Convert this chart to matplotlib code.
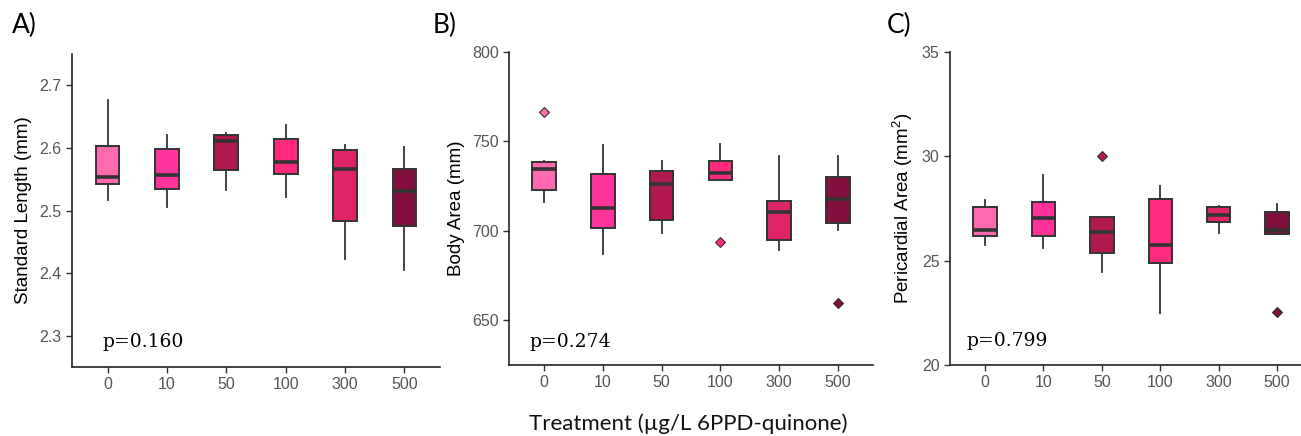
#!/usr/bin/env python3
"""
Three-panel boxplot: standard length, body area and pericardial area
across 6PPD-quinone treatments.
"""

import matplotlib
matplotlib.use("Agg")
import matplotlib.pyplot as plt


# ============================================================
# DATA
# ============================================================

treatments = ["0", "10", "50", "100", "300", "500"]
box_colors = ["#FF69B0", "#FF3399", "#B0184F", "#FF2A7F", "#DC2467", "#820F3D"]

# A) Standard Length (mm)
sl_whislo = [2.517, 2.506, 2.533, 2.522, 2.423, 2.405]
sl_q1 = [2.543, 2.535, 2.564, 2.558, 2.484, 2.475]
sl_med = [2.554, 2.557, 2.611, 2.577, 2.567, 2.531]
sl_q3 = [2.603, 2.598, 2.621, 2.614, 2.597, 2.566]
sl_whishi = [2.676, 2.621, 2.624, 2.637, 2.605, 2.601]
sl_fliers = [[], [], [], [], [], []]

# B) Body Area (mm)
ba_whislo = [716.1, 687.3, 699.0, 728.6, 689.1, 700.3]
ba_q1 = [722.6, 701.4, 706.1, 728.6, 694.7, 704.4]
ba_med = [734.4, 713.0, 726.2, 732.5, 710.4, 717.6]
ba_q3 = [738.3, 731.6, 733.6, 739.2, 716.5, 729.9]
ba_whishi = [738.8, 747.8, 739.2, 748.5, 742.0, 742.0]
ba_fliers = [[766.7], [], [], [694.0], [], [659.4]]

# C) Pericardial Area (mm^2)
pa_whislo = [25.74, 25.63, 24.46, 22.50, 26.33, 26.27]
pa_q1 = [26.17, 26.19, 25.39, 24.90, 26.87, 26.27]
pa_med = [26.46, 27.03, 26.38, 25.73, 27.17, 26.49]
pa_q3 = [27.56, 27.83, 27.08, 27.94, 27.56, 27.32]
pa_whishi = [27.93, 29.09, 27.08, 28.56, 27.62, 27.72]
pa_fliers = [[], [], [30.0], [], [], [22.54]]

p_values = ["p=0.160", "p=0.274", "p=0.799"]
panel_labels = ["A)", "B)", "C)"]
y_labels = ["Standard Length (mm)", "Body Area (mm)", r"Pericardial Area (mm$^{2}$)"]
x_label = "Treatment (\u00b5g/L 6PPD-quinone)"


# ============================================================
# STYLE
# ============================================================

plt.rcParams["font.family"] = ["Liberation Sans", "DejaVu Sans"]
plt.rcParams["mathtext.fontset"] = "custom"
plt.rcParams["mathtext.rm"] = "Liberation Sans"
plt.rcParams["mathtext.it"] = "Liberation Sans"

EDGE = "#333333"
TICK_GREY = "#555555"


def make_stats(whislo, q1, med, q3, whishi, fliers):
    stats = []
    for i in range(len(med)):
        stats.append(
            {
                "whislo": whislo[i],
                "q1": q1[i],
                "med": med[i],
                "q3": q3[i],
                "whishi": whishi[i],
                "fliers": fliers[i],
            }
        )
    return stats


def draw_panel(ax, stats, ylim, yticks, xlim):
    positions = list(range(len(treatments)))
    art = ax.bxp(
        stats,
        positions=positions,
        widths=0.4,
        patch_artist=True,
        showcaps=False,
        showfliers=True,
        boxprops=dict(edgecolor=EDGE, linewidth=1.4),
        whiskerprops=dict(color=EDGE, linewidth=1.3),
        medianprops=dict(color=EDGE, linewidth=2.6, solid_capstyle="butt"),
        flierprops=dict(marker="D", markersize=5.5, markeredgecolor=EDGE,
                        markeredgewidth=0.8, linestyle="none"),
    )
    for patch, col in zip(art["boxes"], box_colors):
        patch.set_facecolor(col)
    for fl, col in zip(art["fliers"], box_colors):
        fl.set_markerfacecolor(col)

    ax.set_xticks(positions)
    ax.set_xticklabels(treatments)
    ax.set_xlim(*xlim)
    ax.set_ylim(*ylim)
    ax.set_yticks(yticks)

    for side in ["top", "right"]:
        ax.spines[side].set_visible(False)
    for side in ["left", "bottom"]:
        ax.spines[side].set_color("#222222")
        ax.spines[side].set_linewidth(1.2)

    ax.tick_params(axis="both", colors="#333333", labelcolor=TICK_GREY,
                   labelsize=11.5, length=4, width=1.0)


# ============================================================
# FIGURE
# ============================================================

fig = plt.figure(figsize=(13.01, 4.36), dpi=100)
W, H = 1301, 436

# axes boxes in pixels: left, right, top, bottom
boxes_px = [(72, 440, 54, 367), (509, 873, 52, 365), (950, 1301, 52, 365)]
xlims = [(-0.6, 5.6), (-0.6, 5.6), (-0.6, 5.41)]
ylims = [(2.25, 2.75), (625, 800), (20, 35)]
yticks = [[2.3, 2.4, 2.5, 2.6, 2.7], [650, 700, 750, 800], [20, 25, 30, 35]]
p_pos = [(0.082, 0.064), (0.055, 0.058), (0.048, 0.06)]
label_px = [(12, 33), (433, 33), (887, 33)]

all_stats = [
    make_stats(sl_whislo, sl_q1, sl_med, sl_q3, sl_whishi, sl_fliers),
    make_stats(ba_whislo, ba_q1, ba_med, ba_q3, ba_whishi, ba_fliers),
    make_stats(pa_whislo, pa_q1, pa_med, pa_q3, pa_whishi, pa_fliers),
]

for i in range(3):
    l, r, t, b = boxes_px[i]
    ax = fig.add_axes([l / W, (H - b) / H, (r - l) / W, (b - t) / H])
    draw_panel(ax, all_stats[i], ylims[i], yticks[i], xlims[i])
    ax.set_ylabel(y_labels[i], fontsize=13.5, color="black", labelpad=5)
    ax.text(p_pos[i][0], p_pos[i][1], p_values[i], transform=ax.transAxes,
            family="DejaVu Serif", fontsize=13.5, color="black",
            ha="left", va="baseline")
    lx, ly = label_px[i]
    fig.text(lx / W, (H - ly) / H, panel_labels[i], family="Lato",
             fontsize=19, color="black", ha="left", va="baseline")

fig.text(688 / W, (H - 430) / H, x_label, family=["Lato", "DejaVu Sans"],
         fontsize=16, color="#111111", ha="center", va="baseline")

fig.savefig("out.png", dpi=100)
